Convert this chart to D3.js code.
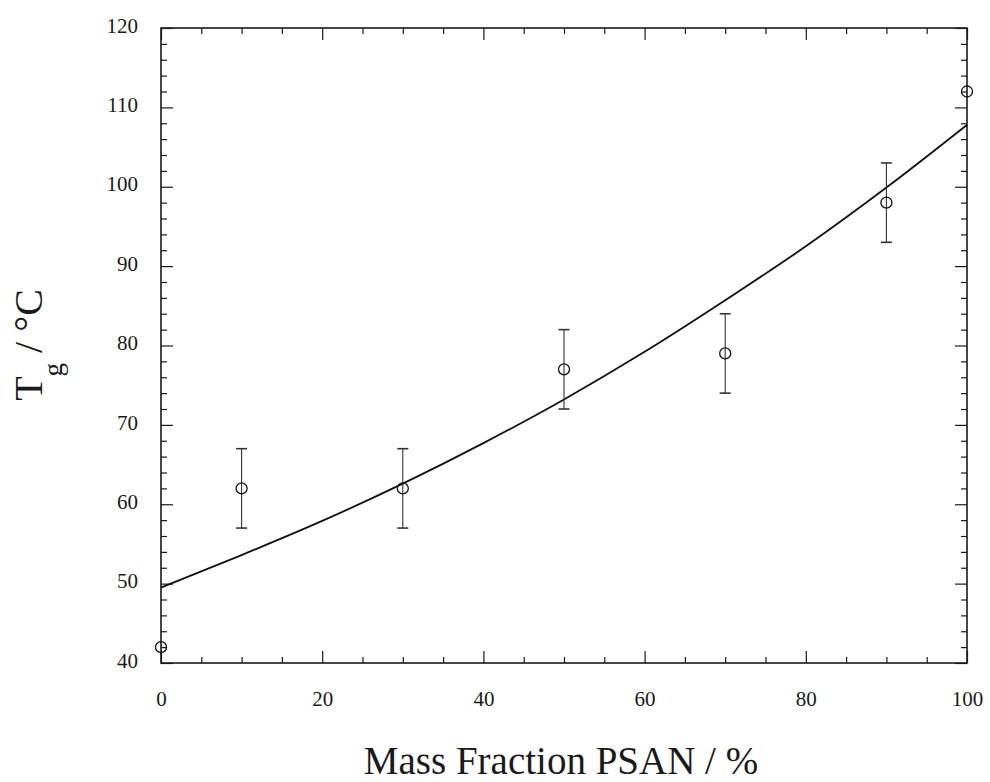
<!DOCTYPE html>
<html>
<head>
<meta charset="utf-8">
<script src="https://d3js.org/d3.v7.min.js"></script>
<style>
  html, body { margin: 0; padding: 0; background: #ffffff; }
</style>
</head>
<body>
<div id="tg-chart"></div>
<script>
// glass transition vs. PSAN content
const massFraction = [0, 10, 30, 50, 70, 90, 100];
const tgMeasured   = [42, 62, 62, 77, 79, 98, 112];
const tgError      = [0, 5, 5, 5, 5, 5, 0];

// fitted curve, read every 10 %
const fitFraction = [0, 10, 20, 30, 40, 50, 60, 70, 80, 90, 100];
const fitTg       = [49.5, 53.6, 57.9, 62.6, 67.7, 73.2, 79.2, 85.7, 92.5, 99.9, 107.8];

const xMajor = [0, 20, 40, 60, 80, 100];
const yMajor = [40, 50, 60, 70, 80, 90, 100, 110, 120];

const width = 990, height = 782;
const plotLeft = 161, plotRight = 967, plotTop = 28, plotBottom = 663;
const serif = '"Liberation Serif", "Times New Roman", Times, serif';

const svg = d3.select('#tg-chart')
  .append('svg')
  .attr('width', width)
  .attr('height', height)
  .style('font-family', serif);

const x = d3.scaleLinear().domain([0, 100]).range([plotLeft, plotRight]);
const y = d3.scaleLinear().domain([40, 120]).range([plotBottom, plotTop]);

const majorLen = 12, minorLen = 6;
const xMinor = d3.range(0, 101, 5).filter(v => v % 20 !== 0);
const yMinor = d3.range(40, 121, 2).filter(v => v % 10 !== 0);

function styleAxis(g) {
  g.attr('font-family', null).attr('font-size', null);
  g.select('.domain').remove();
  g.selectAll('line').attr('stroke', '#1a1a1a').attr('stroke-width', 1.2);
  g.selectAll('text').style('font-family', serif).style('font-size', '21px').attr('fill', '#1a1a1a');
}

// bottom axis, ticks pointing in
svg.append('g')
  .attr('transform', `translate(0,${plotBottom})`)
  .call(d3.axisBottom(x).tickValues(xMajor).tickSize(-majorLen).tickPadding(28))
  .call(styleAxis);
svg.append('g')
  .attr('transform', `translate(0,${plotBottom})`)
  .call(d3.axisBottom(x).tickValues(xMinor).tickSize(-minorLen).tickFormat(''))
  .call(styleAxis);

// top axis, no labels
svg.append('g')
  .attr('transform', `translate(0,${plotTop})`)
  .call(d3.axisTop(x).tickValues(xMajor).tickSize(-majorLen).tickFormat(''))
  .call(styleAxis);
svg.append('g')
  .attr('transform', `translate(0,${plotTop})`)
  .call(d3.axisTop(x).tickValues(xMinor).tickSize(-minorLen).tickFormat(''))
  .call(styleAxis);

// left axis
svg.append('g')
  .attr('transform', `translate(${plotLeft},0)`)
  .call(d3.axisLeft(y).tickValues(yMajor).tickSize(-majorLen).tickPadding(23))
  .call(styleAxis)
  .call(g => g.selectAll('text').attr('dy', '0.2em'));
svg.append('g')
  .attr('transform', `translate(${plotLeft},0)`)
  .call(d3.axisLeft(y).tickValues(yMinor).tickSize(-minorLen).tickFormat(''))
  .call(styleAxis);

// right axis
svg.append('g')
  .attr('transform', `translate(${plotRight},0)`)
  .call(d3.axisRight(y).tickValues(yMajor).tickSize(-majorLen).tickFormat(''))
  .call(styleAxis);
svg.append('g')
  .attr('transform', `translate(${plotRight},0)`)
  .call(d3.axisRight(y).tickValues(yMinor).tickSize(-minorLen).tickFormat(''))
  .call(styleAxis);

// frame
svg.append('rect')
  .attr('x', plotLeft)
  .attr('y', plotTop)
  .attr('width', plotRight - plotLeft)
  .attr('height', plotBottom - plotTop)
  .attr('fill', 'none')
  .attr('stroke', '#1a1a1a')
  .attr('stroke-width', 1.6);

// fit curve
const fitLine = d3.line()
  .x((d, i) => x(fitFraction[i]))
  .y(d => y(d))
  .curve(d3.curveMonotoneX);

svg.append('path')
  .datum(fitTg)
  .attr('d', fitLine)
  .attr('fill', 'none')
  .attr('stroke', '#111')
  .attr('stroke-width', 1.8);

// error bars
const points = massFraction.map((m, i) => ({ m: m, tg: tgMeasured[i], err: tgError[i] }));
const bars = svg.append('g')
  .selectAll('g')
  .data(points.filter(d => d.err > 0))
  .join('g')
  .attr('stroke', '#333')
  .attr('stroke-width', 1.1);

bars.append('line')
  .attr('x1', d => x(d.m)).attr('x2', d => x(d.m))
  .attr('y1', d => y(d.tg + d.err)).attr('y2', d => y(d.tg - d.err));
bars.append('line')
  .attr('x1', d => x(d.m) - 5.5).attr('x2', d => x(d.m) + 5.5)
  .attr('y1', d => y(d.tg + d.err)).attr('y2', d => y(d.tg + d.err))
  .attr('stroke-width', 1.6);
bars.append('line')
  .attr('x1', d => x(d.m) - 5.5).attr('x2', d => x(d.m) + 5.5)
  .attr('y1', d => y(d.tg - d.err)).attr('y2', d => y(d.tg - d.err))
  .attr('stroke-width', 1.6);

// open circle markers
svg.append('g')
  .selectAll('circle')
  .data(points)
  .join('circle')
  .attr('cx', d => x(d.m))
  .attr('cy', d => y(d.tg))
  .attr('r', 5.5)
  .attr('fill', 'none')
  .attr('stroke', '#111')
  .attr('stroke-width', 1.3);

// axis titles
svg.append('text')
  .attr('x', (plotLeft + plotRight) / 2 - 3)
  .attr('y', 774)
  .attr('text-anchor', 'middle')
  .attr('fill', '#1a1a1a')
  .style('font-family', serif)
  .style('font-size', '39px')
  .text('Mass Fraction PSAN / %');

const yTitle = svg.append('text')
  .attr('transform', 'translate(42,345) rotate(-90)')
  .attr('text-anchor', 'middle')
  .attr('fill', '#1a1a1a')
  .style('font-family', serif)
  .style('font-size', '40px');
yTitle.append('tspan').text('T');
yTitle.append('tspan').style('font-size', '27px').attr('dy', 20).text('g');
yTitle.append('tspan').attr('dy', -20).text(' / °C');
</script>
</body>
</html>
